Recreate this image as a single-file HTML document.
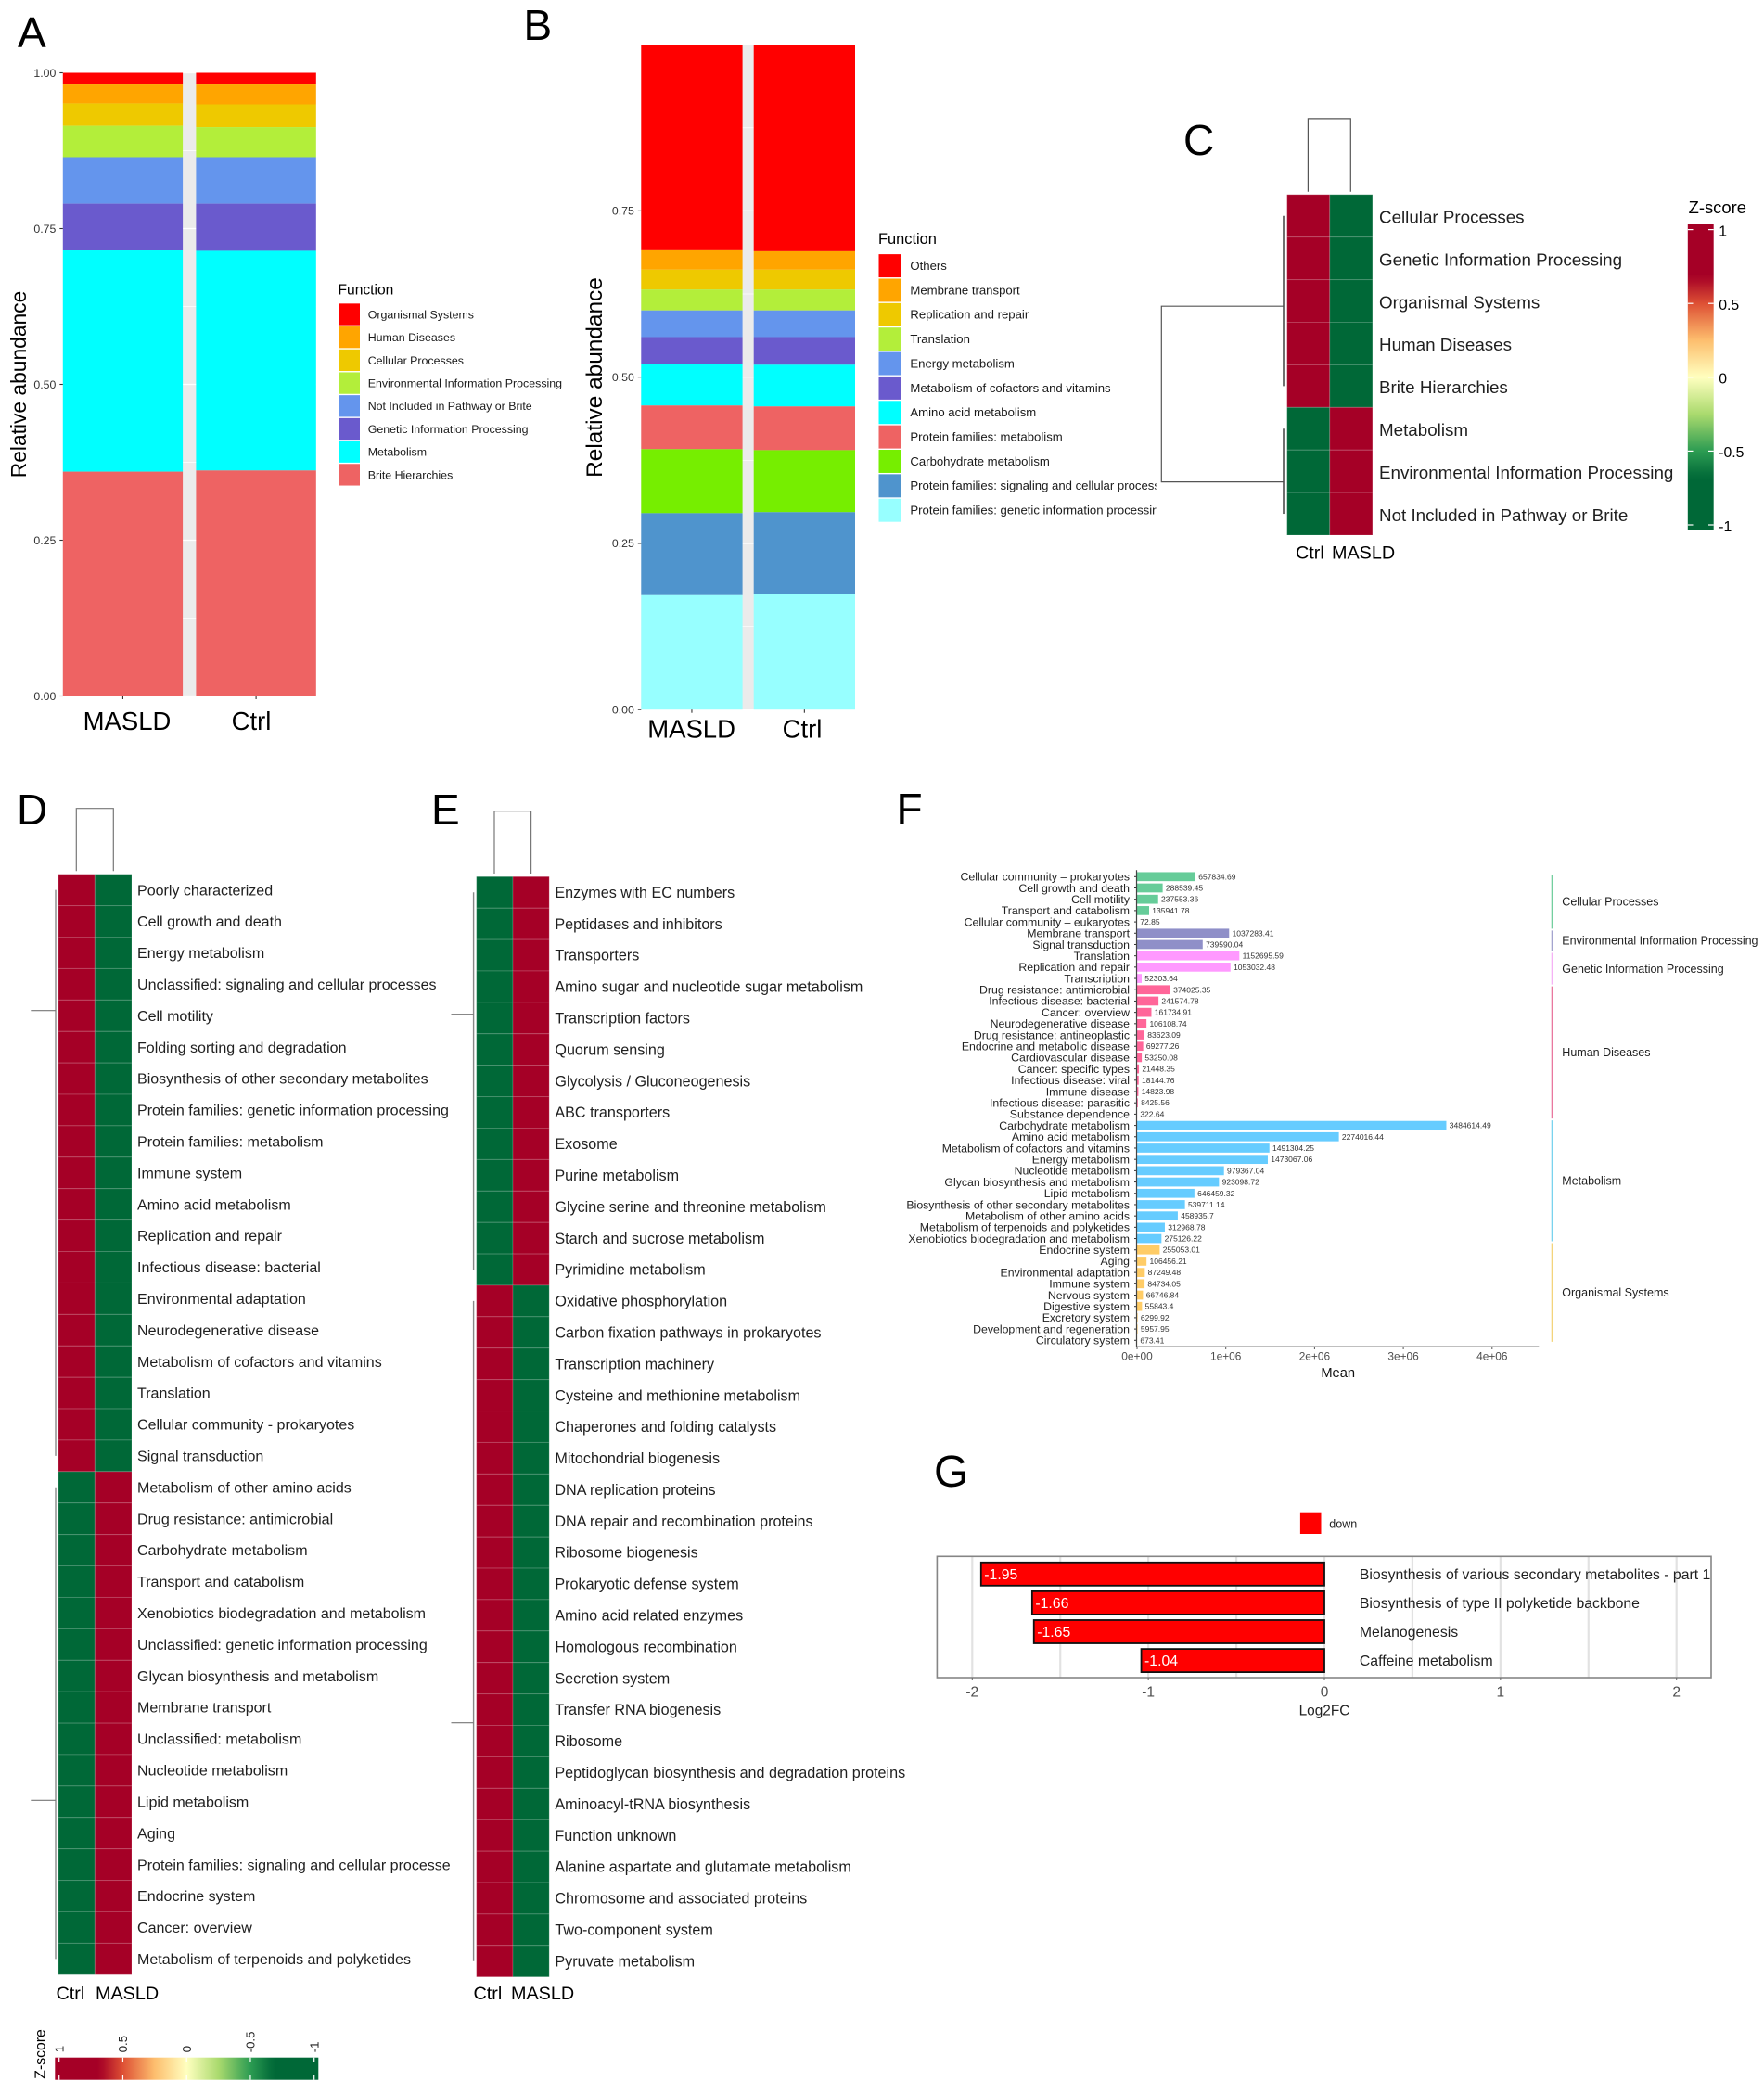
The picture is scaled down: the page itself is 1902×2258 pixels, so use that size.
<!DOCTYPE html>
<html lang="en">
<head>
<meta charset="utf-8">
<title>KEGG functional abundance panels</title>
<style>
html,body{margin:0;padding:0;background:#fff;}
svg{display:block;filter:blur(0.35px);}
text{font-family:"Liberation Sans",Arial,sans-serif;}
.letter{font-size:46px;fill:#000;}
</style>
</head>
<body>
<svg id="figure" xmlns="http://www.w3.org/2000/svg" width="1902" height="2258" viewBox="0 0 1902 2258">
  <defs>
    <clipPath id="clip-b-legend"><rect x="975" y="270" width="271.6" height="300"/></clipPath>
    <clipPath id="clip-g-panel"><rect x="1010" y="1678" width="835" height="132"/></clipPath>
    <linearGradient id="grad-c" x1="0" y1="0" x2="0" y2="1"></linearGradient>
    <linearGradient id="grad-d" x1="0" y1="0" x2="1" y2="0"></linearGradient>
  </defs>
  <rect x="0" y="0" width="1902" height="2258" fill="#ffffff"/>
  <text class="letter" x="19" y="51" font-size="47">A</text>
  <text class="letter" x="564.5" y="43">B</text>
  <text class="letter" x="1276" y="167">C</text>
  <text class="letter" x="18" y="889">D</text>
  <text class="letter" x="465" y="889">E</text>
  <text class="letter" x="966.5" y="888">F</text>
  <text class="letter" x="1007" y="1603" style="font-size:48px">G</text>
  <g id="panel-a"></g>
  <g id="panel-b"></g>
  <g id="panel-c"></g>
  <g id="panel-d"></g>
  <g id="panel-e"></g>
  <g id="panel-f"></g>
  <g id="panel-g"></g>
</svg>
<script>
/* ---------- Panel A data (top of stack first) ---------- */
const aFunctions = ["Organismal Systems","Human Diseases","Cellular Processes","Environmental Information Processing","Not Included in Pathway or Brite","Genetic Information Processing","Metabolism","Brite Hierarchies"];
const aMasld = [0.0187,0.0303,0.036,0.0504,0.0746,0.075,0.355,0.36];
const aCtrl = [0.0187,0.0319,0.0366,0.0482,0.0746,0.0756,0.3525,0.3619];
const aTicks = [0,0.25,0.5,0.75,1];

/* ---------- Panel B data (top of stack first) ---------- */
const bFunctions = ["Others","Membrane transport","Replication and repair","Translation","Energy metabolism","Metabolism of cofactors and vitamins","Amino acid metabolism","Protein families: metabolism","Carbohydrate metabolism","Protein families: signaling and cellular processes","Protein families: genetic information processing"];
const bMasld = [0.3093,0.0291,0.0299,0.0314,0.0401,0.0409,0.062,0.0656,0.0963,0.1233,0.1721];
const bCtrl = [0.3107,0.0277,0.0299,0.0314,0.0401,0.0416,0.0627,0.0657,0.0933,0.1226,0.1743];
const bTicks = [0,0.25,0.5,0.75];

/* ---------- Panel C data ---------- */
const cRows = ["Cellular Processes","Genetic Information Processing","Organismal Systems","Human Diseases","Brite Hierarchies","Metabolism","Environmental Information Processing","Not Included in Pathway or Brite"];
const cCtrl = [1,1,1,1,1,-1,-1,-1];
const cMasld = [-1,-1,-1,-1,-1,1,1,1];
const zTicks = [1,0.5,0,-0.5,-1];

/* ---------- Panel D data ---------- */
const dRows = ["Poorly characterized","Cell growth and death","Energy metabolism","Unclassified: signaling and cellular processes","Cell motility","Folding sorting and degradation","Biosynthesis of other secondary metabolites","Protein families: genetic information processing","Protein families: metabolism","Immune system","Amino acid metabolism","Replication and repair","Infectious disease: bacterial","Environmental adaptation","Neurodegenerative disease","Metabolism of cofactors and vitamins","Translation","Cellular community - prokaryotes","Signal transduction","Metabolism of other amino acids","Drug resistance: antimicrobial","Carbohydrate metabolism","Transport and catabolism","Xenobiotics biodegradation and metabolism","Unclassified: genetic information processing","Glycan biosynthesis and metabolism","Membrane transport","Unclassified: metabolism","Nucleotide metabolism","Lipid metabolism","Aging","Protein families: signaling and cellular processe","Endocrine system","Cancer: overview","Metabolism of terpenoids and polyketides"];
const dCtrl = [1,1,1,1,1,1,1,1,1,1,1,1,1,1,1,1,1,1,1,-1,-1,-1,-1,-1,-1,-1,-1,-1,-1,-1,-1,-1,-1,-1,-1];
const dMasld = [-1,-1,-1,-1,-1,-1,-1,-1,-1,-1,-1,-1,-1,-1,-1,-1,-1,-1,-1,1,1,1,1,1,1,1,1,1,1,1,1,1,1,1,1];

/* ---------- Panel E data ---------- */
const eRows = ["Enzymes with EC numbers","Peptidases and inhibitors","Transporters","Amino sugar and nucleotide sugar metabolism","Transcription factors","Quorum sensing","Glycolysis / Gluconeogenesis","ABC transporters","Exosome","Purine metabolism","Glycine serine and threonine metabolism","Starch and sucrose metabolism","Pyrimidine metabolism","Oxidative phosphorylation","Carbon fixation pathways in prokaryotes","Transcription machinery","Cysteine and methionine metabolism","Chaperones and folding catalysts","Mitochondrial biogenesis","DNA replication proteins","DNA repair and recombination proteins","Ribosome biogenesis","Prokaryotic defense system","Amino acid related enzymes","Homologous recombination","Secretion system","Transfer RNA biogenesis","Ribosome","Peptidoglycan biosynthesis and degradation proteins","Aminoacyl-tRNA biosynthesis","Function unknown","Alanine aspartate and glutamate metabolism","Chromosome and associated proteins","Two-component system","Pyruvate metabolism"];
const eCtrl = [-1,-1,-1,-1,-1,-1,-1,-1,-1,-1,-1,-1,-1,1,1,1,1,1,1,1,1,1,1,1,1,1,1,1,1,1,1,1,1,1,1];
const eMasld = [1,1,1,1,1,1,1,1,1,1,1,1,1,-1,-1,-1,-1,-1,-1,-1,-1,-1,-1,-1,-1,-1,-1,-1,-1,-1,-1,-1,-1,-1,-1];

/* ---------- Panel F data ---------- */
const fCategories = ["Cellular community – prokaryotes","Cell growth and death","Cell motility","Transport and catabolism","Cellular community – eukaryotes","Membrane transport","Signal transduction","Translation","Replication and repair","Transcription","Drug resistance: antimicrobial","Infectious disease: bacterial","Cancer: overview","Neurodegenerative disease","Drug resistance: antineoplastic","Endocrine and metabolic disease","Cardiovascular disease","Cancer: specific types","Infectious disease: viral","Immune disease","Infectious disease: parasitic","Substance dependence","Carbohydrate metabolism","Amino acid metabolism","Metabolism of cofactors and vitamins","Energy metabolism","Nucleotide metabolism","Glycan biosynthesis and metabolism","Lipid metabolism","Biosynthesis of other secondary metabolites","Metabolism of other amino acids","Metabolism of terpenoids and polyketides","Xenobiotics biodegradation and metabolism","Endocrine system","Aging","Environmental adaptation","Immune system","Nervous system","Digestive system","Excretory system","Development and regeneration","Circulatory system"];
const fValues = [657834.69,288539.45,237553.36,135941.78,72.85,1037283.41,739590.04,1152695.59,1053032.48,52303.64,374025.35,241574.78,161734.91,106108.74,83623.09,69277.26,53250.08,21448.35,18144.76,14823.98,8425.56,322.64,3484614.49,2274016.44,1491304.25,1473067.06,979367.04,923098.72,646459.32,539711.14,458935.7,312968.78,275126.22,255053.01,106456.21,87249.48,84734.05,66746.84,55843.4,6299.92,5957.95,673.41];
const fGroupOfRow = [0,0,0,0,0,1,1,2,2,2,3,3,3,3,3,3,3,3,3,3,3,3,4,4,4,4,4,4,4,4,4,4,4,5,5,5,5,5,5,5,5,5];
const fGroups = ["Cellular Processes","Environmental Information Processing","Genetic Information Processing","Human Diseases","Metabolism","Organismal Systems"];
const fTicks = [0,1000000,2000000,3000000,4000000];
const fTickLabels = ["0e+00","1e+06","2e+06","3e+06","4e+06"];

/* ---------- Panel G data ---------- */
const gTerms = ["Biosynthesis of various secondary metabolites - part 1","Biosynthesis of type II polyketide backbone","Melanogenesis","Caffeine metabolism"];
const gLog2FC = [-1.95,-1.66,-1.65,-1.04];
const gTicks = [-2,-1,0,1,2];

/* ---------- helpers ---------- */
const SVGNS = "http://www.w3.org/2000/svg";
function mk(parent, tag, attrs, txt) {
  const n = document.createElementNS(SVGNS, tag);
  for (const k in attrs) n.setAttribute(k, attrs[k]);
  if (txt !== undefined) n.textContent = txt;
  parent.appendChild(n);
  return n;
}
function slug(s) {
  return String(s).toLowerCase().replace(/[^a-z0-9]+/g, '-').replace(/^-|-$/g, '');
}
const stackColors = {
  a: ["#ff0000","#ffa500","#eec900","#b3ee3a","#6495ed","#6a5acd","#00ffff","#ee6363"],
  b: ["#ff0000","#ffa500","#eec900","#b3ee3a","#6495ed","#6a5acd","#00ffff","#ee6363","#76ee00","#4f94cd","#97ffff"]
};
const groupBarColors = ["#66cc99","#8f8fc8","#ff99ff","#ff6699","#66ccff","#ffcc66"];
const groupStripColors = ["#74cf9f","#a4a4cf","#f5b2f5","#e9789f","#7ad3ee","#f3d47c"];

function zColor(z) {
  const stops = [[1,[165,0,38]],[0.68,[165,0,38]],[0.5,[222,80,52]],[0.25,[253,190,110]],[0,[255,255,191]],[-0.25,[170,218,110]],[-0.5,[44,156,82]],[-0.68,[0,104,55]],[-1,[0,104,55]]];
  for (let i = 0; i < stops.length - 1; i++) {
    const a = stops[i], b = stops[i + 1];
    if (z <= a[0] && z >= b[0]) {
      const t = (a[0] - z) / (a[0] - b[0]);
      const c = a[1].map((v, j) => Math.round(v + (b[1][j] - v) * t));
      return 'rgb(' + c.join(',') + ')';
    }
  }
  return 'rgb(165,0,38)';
}

/* ---------- stacked bars (A, B) ---------- */
function drawStacked(root, cfg) {
  const y = v => cfg.y0 + (cfg.y1 - cfg.y0) * v;
  const bg = mk(root, 'rect', {x: cfg.bars[0][0], y: cfg.y1, width: cfg.bars[1][1] - cfg.bars[0][0], height: cfg.y0 - cfg.y1, fill: '#ebebeb'});
  
  
  for (let k = 0; k <= 8; k++) {
    const v = k / 8;
    const gl = mk(root, 'line', {x1: cfg.bars[0][0], x2: cfg.bars[1][1], y1: y(v), y2: y(v), stroke: '#fff', 'stroke-width': k % 2 ? 0.7 : 1.3});
    
    
  }
  [cfg.first, cfg.second].forEach((series, si) => {
    let top = 1;
    const bx = cfg.bars[si];
    series.forEach((val, i) => {
      const seg = mk(root, 'rect', {x: bx[0], y: y(top), width: bx[1] - bx[0], height: y(top - val) - y(top), fill: cfg.colors[i]});
      
      
      top -= val;
    });
    const xc = (bx[0] + bx[1]) / 2;
    const t = mk(root, 'line', {x1: xc, x2: xc, y1: cfg.y0, y2: cfg.y0 + 3.5, stroke: '#333', 'stroke-width': 1.1});
    
    
    const lab = mk(root, 'text', {x: cfg.labelX[si], y: cfg.labelBase, 'font-size': cfg.labelSize, 'text-anchor': 'middle', fill: '#000'}, cfg.samples[si]);
    
    
  });
  cfg.ticks.forEach(v => {
    const t = mk(root, 'line', {x1: cfg.bars[0][0] - 3.5, x2: cfg.bars[0][0], y1: y(v), y2: y(v), stroke: '#333', 'stroke-width': 1.1});
    
    
    const lab = mk(root, 'text', {x: cfg.bars[0][0] - 7.5, y: y(v) + 4.3, 'font-size': 12.3, 'text-anchor': 'end', fill: '#333'}, v.toFixed(2));
    
    
  });
  const title = mk(root, 'text', {transform: 'translate(' + cfg.titleX + ',' + cfg.titleY + ') rotate(-90)', 'font-size': cfg.titleSize, 'text-anchor': 'middle', fill: '#000'}, 'Relative abundance');
  
  
  const lt = mk(root, 'text', {x: cfg.legX, y: cfg.legTitleY, 'font-size': cfg.legTitleSize, fill: '#000'}, 'Function');
  
  
  const lg = mk(root, 'g', cfg.legClip ? {'clip-path': cfg.legClip} : {});
  
  
  cfg.functions.forEach((f, i) => {
    const cy = cfg.legY + i * cfg.legStep;
    const sw = mk(root, 'rect', {x: cfg.legX + 0.5, y: cy - cfg.legStep / 2 + 0.7, width: cfg.swW, height: cfg.legStep - 1.4, fill: cfg.colors[i]});
    
    
    const tx = mk(lg, 'text', {x: cfg.legTextX, y: cy + 4.4, 'font-size': cfg.legSize, fill: '#1a1a1a'}, f);
    
    
  });
}
drawStacked(document.getElementById('panel-a'), {
  samples: ['MASLD', 'Ctrl'], first: aMasld, second: aCtrl, functions: aFunctions, colors: stackColors.a, ticks: aTicks,
  bars: [[67.8, 197.1], [211.4, 340.8]], y0: 750.5, y1: 78.5, labelX: [137, 271], labelBase: 787, labelSize: 27.5,
  titleX: 28, titleY: 414.5, titleSize: 22.8, legX: 364.5, legTitleY: 317.5, legTitleSize: 15.6, legY: 339, legStep: 24.7, swW: 23, legTextX: 396.7, legSize: 12.4
});
drawStacked(document.getElementById('panel-b'), {
  samples: ['MASLD', 'Ctrl'], first: bMasld, second: bCtrl, functions: bFunctions, colors: stackColors.b, ticks: bTicks,
  bars: [[691.3, 800.6], [812.7, 922]], y0: 765.2, y1: 48.1, labelX: [745.6, 865], labelBase: 795.5, labelSize: 27.5,
  titleX: 649, titleY: 407, titleSize: 24.4, legX: 947, legTitleY: 263, legTitleSize: 16.4, legY: 286.6, legStep: 26.36, swW: 24, legTextX: 981.4, legSize: 13.15, legClip: 'url(#clip-b-legend)'
});

/* ---------- heatmaps (C, D, E) ---------- */
function drawHeatmap(root, cfg) {
  const n = cfg.rows.length;
  const rowH = (cfg.bottom - cfg.top) / n;
  const cy = i => cfg.top + rowH * i;
  cfg.rows.forEach((label, i) => {
    const c1 = mk(root, 'rect', {x: cfg.x0, y: cy(i), width: cfg.xm - cfg.x0, height: rowH, fill: zColor(cfg.ctrl[i]), stroke: 'rgba(255,255,255,0.16)', 'stroke-width': 1});
    
    
    const c2 = mk(root, 'rect', {x: cfg.xm, y: cy(i), width: cfg.x1 - cfg.xm, height: rowH, fill: zColor(cfg.masld[i]), stroke: 'rgba(255,255,255,0.16)', 'stroke-width': 1});
    
    
    const t = mk(root, 'text', {x: cfg.labelX, y: cy(i) + rowH / 2 + cfg.fs * 0.35 + cfg.labelDy, 'font-size': cfg.fs, fill: '#1f1f1f'}, label);
    
    
  });
  const ctrlLab = mk(root, 'text', {x: cfg.ctrlX, y: cfg.colBase, 'font-size': 19.8, fill: '#000'}, 'Ctrl');
  
  
  const masLab = mk(root, 'text', {x: cfg.masldX, y: cfg.colBase, 'font-size': 19.8, fill: '#000'}, 'MASLD');
  
  
  const topD = mk(root, 'path', {d: 'M' + cfg.dendTop[0] + ' ' + cfg.dendTop[3] + 'V' + cfg.dendTop[2] + 'H' + cfg.dendTop[1] + 'V' + cfg.dendTop[3], fill: 'none', stroke: cfg.dendColor, 'stroke-width': 1.2});
  
  
  const split = cfg.ctrl.findIndex(v => v !== cfg.ctrl[0]);
  const center = i => cy(i) + rowH / 2;
  const up = mk(root, 'line', {x1: cfg.dendX, x2: cfg.dendX, y1: center(0), y2: center(split - 1), stroke: cfg.dendInner, 'stroke-width': 1.4});
  
  
  const lo = mk(root, 'line', {x1: cfg.dendX, x2: cfg.dendX, y1: center(split), y2: center(n - 1), stroke: cfg.dendInner, 'stroke-width': 1.4});
  
  
  const arms = mk(root, 'path', {d: cfg.armPath, fill: 'none', stroke: cfg.dendColor, 'stroke-width': 1.2});
  
  
}
drawHeatmap(document.getElementById('panel-c'), {
  rows: cRows, ctrl: cCtrl, masld: cMasld, x0: 1387.7, xm: 1433.8, x1: 1479.9, top: 209.8, bottom: 577, fs: 18.8, labelX: 1487, labelDy: 1.2,
  ctrlX: 1397, masldX: 1436, colBase: 602.3, dendTop: [1410.4, 1456.3, 127.9, 206.8], dendColor: '#555', dendInner: '#333', dendX: 1384,
  armPath: 'M1383.4 330.2H1252.3V519.6H1383.4'
});
drawHeatmap(document.getElementById('panel-d'), {
  rows: dRows, ctrl: dCtrl, masld: dMasld, x0: 63, xm: 102.3, x1: 142, top: 942.7, bottom: 2129.3, fs: 16.05, labelX: 148, labelDy: 0,
  ctrlX: 60.5, masldX: 103, colBase: 2156, dendTop: [82.3, 122.3, 871.7, 939.3], dendColor: '#777', dendInner: '#888', dendX: 60,
  armPath: 'M33.3 1089.7H60M33.3 1941.3H60'
});
drawHeatmap(document.getElementById('panel-e'), {
  rows: eRows, ctrl: eCtrl, masld: eMasld, x0: 513.7, xm: 553, x1: 592.2, top: 945.3, bottom: 2131.7, fs: 16.15, labelX: 598.4, labelDy: 0,
  ctrlX: 510.5, masldX: 551, colBase: 2156, dendTop: [533, 572.6, 874.7, 942], dendColor: '#777', dendInner: '#888', dendX: 510.6,
  armPath: 'M486.5 1093.7H510.6M486.5 1857.7H510.6'
});

/* ---------- Z-score colour bars ---------- */
(function () {
  const gc = document.getElementById('grad-c');
  const gd = document.getElementById('grad-d');
  for (let k = 0; k <= 40; k++) {
    const f = k / 40;
    const z = 1 - 2 * f;
    mk(gc, 'stop', {offset: ((247.6 + 318.4 * f - 242) / 329), 'stop-color': zColor(z)});
    mk(gd, 'stop', {offset: ((63.7 + 275 * f - 59.3) / 284), 'stop-color': zColor(z)});
  }
  const root = document.getElementById('panel-c');
  const zy = z => 406.8 - z * 159.2;
  const bar = mk(root, 'rect', {x: 1819.8, y: 242, width: 27.9, height: 329, fill: 'url(#grad-c)'});
  
  
  const ttl = mk(root, 'text', {x: 1820.6, y: 230, 'font-size': 18.4, fill: '#000'}, 'Z-score');
  
  
  zTicks.forEach(z => {
    const t1 = mk(root, 'line', {x1: 1819.8, x2: 1825.5, y1: zy(z), y2: zy(z), stroke: '#fff', 'stroke-width': 1.2});
    
    
    const t2 = mk(root, 'line', {x1: 1842, x2: 1847.7, y1: zy(z), y2: zy(z), stroke: '#fff', 'stroke-width': 1.2});
    
    
    const lab = mk(root, 'text', {x: 1853.2, y: zy(z) + 6.8, 'font-size': 15.8, fill: '#000'}, String(z));
    
    
  });

  const rootD = document.getElementById('panel-d');
  const zx = z => 201.2 - z * 137.5;
  const barD = mk(rootD, 'rect', {x: 59.3, y: 2218.7, width: 284, height: 24, fill: 'url(#grad-d)'});
  
  
  const ttlD = mk(rootD, 'text', {transform: 'translate(48.7,2241.7) rotate(-90)', 'font-size': 15.8, fill: '#000'}, 'Z-score');
  
  
  zTicks.forEach(z => {
    const t1 = mk(rootD, 'line', {x1: zx(z), x2: zx(z), y1: 2218.7, y2: 2223.5, stroke: '#fff', 'stroke-width': 1.2});
    
    
    const t2 = mk(rootD, 'line', {x1: zx(z), x2: zx(z), y1: 2238, y2: 2242.7, stroke: '#fff', 'stroke-width': 1.2});
    
    
    const lab = mk(rootD, 'text', {transform: 'translate(' + (zx(z) + 4.6) + ',2213.3) rotate(-90)', 'font-size': 13.2, fill: '#222'}, String(z));
    
    
  });
})();

/* ---------- Panel F ---------- */
(function () {
  const root = document.getElementById('panel-f');
  const x = v => 1226 + v / 1000000 * 95.7;
  const y = i => 945.3 + i * 12.195;
  const strip = k => 943.2 + k * 12.04;
  const barH = 9.7;
  fCategories.forEach((cat, i) => {
    const bar = mk(root, 'rect', {x: x(0), y: y(i) - barH / 2, width: x(fValues[i]) - x(0), height: barH, fill: groupBarColors[fGroupOfRow[i]]});
    
    
    const lab = mk(root, 'text', {x: 1218, y: y(i) + 4.3, 'font-size': 12.3, 'text-anchor': 'end', fill: '#1f1f1f'}, cat);
    
    
    const val = mk(root, 'text', {x: x(fValues[i]) + 3.3, y: y(i) + 3, 'font-size': 8.5, fill: '#333'}, String(fValues[i]));
    
    
    const t = mk(root, 'line', {x1: x(0) - 3, x2: x(0), y1: y(i), y2: y(i), stroke: '#333', 'stroke-width': 1});
    
    
  });
  const ay = mk(root, 'line', {x1: 1225.5, x2: 1225.5, y1: 938.3, y2: 1452.5, stroke: '#444', 'stroke-width': 1.2});
  
  
  const ax = mk(root, 'line', {x1: 1225, x2: 1659.3, y1: 1452.3, y2: 1452.3, stroke: '#555', 'stroke-width': 1.4});
  
  
  fTicks.forEach((v, k) => {
    const t = mk(root, 'line', {x1: x(v), x2: x(v), y1: 1452.5, y2: 1455, stroke: '#555', 'stroke-width': 1});
    
    
    const lab = mk(root, 'text', {x: x(v), y: 1466.3, 'font-size': 11.9, 'text-anchor': 'middle', fill: '#4d4d4d'}, fTickLabels[k]);
    
    
  });
  const ttl = mk(root, 'text', {x: 1442.7, y: 1485.2, 'font-size': 14.7, 'text-anchor': 'middle', fill: '#111'}, 'Mean');
  
  
  fGroups.forEach((g, k) => {
    const idx = fGroupOfRow.map((v, i) => v === k ? i : -1).filter(i => i >= 0);
    const y1 = strip(idx[0]), y2 = strip(idx[idx.length - 1] + 1) - 2;
    const s = mk(root, 'line', {x1: 1673.7, x2: 1673.7, y1: y1, y2: y2, stroke: groupStripColors[k], 'stroke-width': 2});
    
    
    const lab = mk(root, 'text', {x: 1684.3, y: (y1 + y2) / 2 + 4.3, 'font-size': 12.5, fill: '#1f1f1f'}, g);
    
    
  });
})();

/* ---------- Panel G ---------- */
(function () {
  const root = document.getElementById('panel-g');
  const x = v => 1428 + v * 189.85;
  const y = i => 1697.3 + i * 31.1;
  const barH = 25;
  for (let k = -4; k <= 4; k++) {
    const gl = mk(root, 'line', {x1: x(k / 2), x2: x(k / 2), y1: 1678.5, y2: 1809, stroke: '#e2e2e2', 'stroke-width': 2.2});
    
    
  }
  gLog2FC.forEach((v, i) => {
    const b = mk(root, 'rect', {x: x(v), y: y(i) - barH / 2, width: x(0) - x(v), height: barH, fill: '#ff0000', stroke: '#111', 'stroke-width': 1.8});
    
    
    const val = mk(root, 'text', {x: x(v) + 3.5, y: y(i) + 5.5, 'font-size': 15.8, fill: '#fff'}, v.toFixed(2));
    
    
  });
  const labs = mk(root, 'g', {'clip-path': 'url(#clip-g-panel)'});
  
  
  gTerms.forEach((t, i) => {
    const lab = mk(labs, 'text', {x: 1465.9, y: y(i) + 5.5, 'font-size': 15.8, fill: '#1f1f1f'}, t);
    
    
  });
  const box = mk(root, 'rect', {x: 1010.4, y: 1678.3, width: 834.6, height: 130.7, fill: 'none', stroke: '#858585', 'stroke-width': 1.6});
  
  
  gTicks.forEach(v => {
    const t = mk(root, 'line', {x1: x(v), x2: x(v), y1: 1809, y2: 1812, stroke: '#666', 'stroke-width': 1});
    
    
    const lab = mk(root, 'text', {x: x(v), y: 1829.3, 'font-size': 15.5, 'text-anchor': 'middle', fill: '#4d4d4d'}, String(v));
    
    
  });
  const ttl = mk(root, 'text', {x: 1428, y: 1849.5, 'font-size': 15.4, 'text-anchor': 'middle', fill: '#222'}, 'Log2FC');
  
  
  const sw = mk(root, 'rect', {x: 1401.9, y: 1630.7, width: 22.6, height: 23.3, fill: '#ff0000'});
  
  
  const dl = mk(root, 'text', {x: 1433.3, y: 1647.4, 'font-size': 12.5, fill: '#222'}, 'down');
  
  
})();
</script>
</body>
</html>
